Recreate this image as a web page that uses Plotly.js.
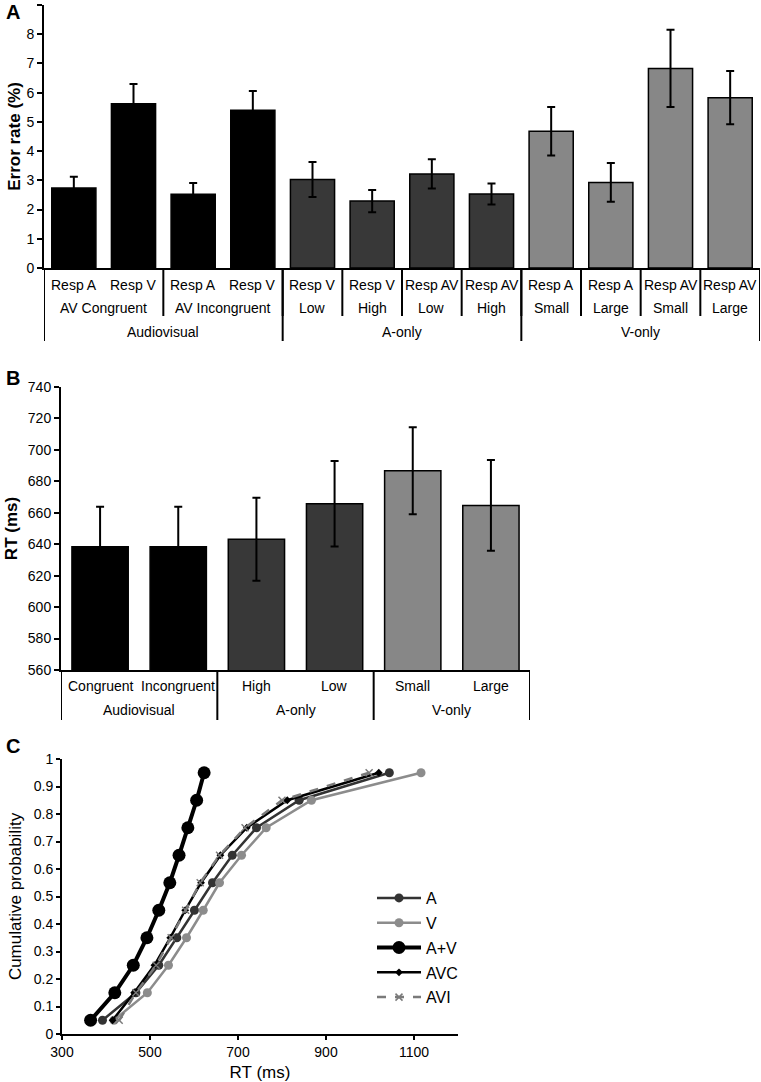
<!DOCTYPE html>
<html>
<head>
<meta charset="utf-8">
<script src="https://cdn.plot.ly/plotly-3.0.1.min.js"></script>
<style>html,body{margin:0;padding:0;background:#fff;}#chart{width:761px;height:1082px;}</style>
</head>
<body>
<div id="chart"></div>
<script>
// ---------- Panel A data: error rate (%) ----------
const errCats  = ['Resp A','Resp V','Resp A','Resp V','Resp V','Resp V','Resp AV','Resp AV','Resp A','Resp A','Resp AV','Resp AV'];
const errSub   = ['AV Congruent','AV Congruent','AV Incongruent','AV Incongruent','Low','High','Low','High','Small','Large','Small','Large'];
const errGroup = ['Audiovisual','Audiovisual','Audiovisual','Audiovisual','A-only','A-only','A-only','A-only','V-only','V-only','V-only','V-only'];
const errRate  = [2.74, 5.62, 2.52, 5.40, 3.03, 2.29, 3.22, 2.53, 4.68, 2.93, 6.83, 5.83];
const errSE    = [0.38, 0.68, 0.39, 0.66, 0.60, 0.38, 0.50, 0.36, 0.83, 0.66, 1.32, 0.91];

// ---------- Panel B data: RT (ms) ----------
const rtCats  = ['Congruent','Incongruent','High','Low','Small','Large'];
const rtGroup = ['Audiovisual','Audiovisual','A-only','A-only','V-only','V-only'];
const rtMean  = [638.4, 638.4, 643.1, 665.7, 686.7, 664.7];
const rtSE    = [25.4, 25.4, 26.4, 27.2, 27.7, 28.8];

// ---------- Panel C data: cumulative RT distributions ----------
const cumProb = [0.05, 0.15, 0.25, 0.35, 0.45, 0.55, 0.65, 0.75, 0.85, 0.95];
const rtA   = [392, 468, 520, 561, 601, 642, 687, 742, 839, 1044];
const rtV   = [418, 494, 542, 583, 621, 658, 708, 764, 867, 1116];
const rtAV  = [365, 420, 462, 493, 520, 545, 566, 586, 606, 623];
const rtAVC = [415, 464, 510, 546, 580, 616, 660, 720, 812, 1020];
const rtAVI = [430, 468, 514, 548, 581, 614, 658, 716, 800, 998];

// ---------- styling helpers ----------
const W = 761, H = 1082;
const FONT = 'Liberation Sans, Arial, sans-serif';
const px = x => x / W;
const py = y => 1 - y / H;
const groupColor = {'Audiovisual':'#000000','A-only':'#383838','V-only':'#878787'};

function spans(labels){
  const out = [];
  labels.forEach((l,i)=>{
    const last = out[out.length-1];
    if(last && last.label===l){ last.end = i; } else { out.push({label:l,start:i,end:i}); }
  });
  return out;
}

const annotations = [];
const shapes = [];
function addLabel(xref, x, y, text, size, bold){
  annotations.push({xref:xref, yref:'paper', x:x, y:py(y), text: bold?'<b>'+text+'</b>':text,
    showarrow:false, xanchor:'center', yanchor:'middle', font:{family:FONT,size:size,color:'#000'}});
}
function addSep(xref, x, y0, y1){
  shapes.push({type:'line', xref:xref, yref:'paper', x0:x, x1:x, y0:py(y0), y1:py(y1),
    line:{color:'#000', width:2}});
}

// Panel A category labels
errCats.forEach((c,i)=> addLabel('x', i, 285, c, 14));
spans(errSub).forEach(s=>{ addLabel('x', (s.start+s.end)/2, 308, s.label, 14); });
spans(errGroup).forEach(s=>{ addLabel('x', (s.start+s.end)/2, 332, s.label, 14); });
spans(errSub).forEach(s=>{ addSep('x', s.start-0.5, 268, 316); });
spans(errGroup).forEach(s=>{ addSep('x', s.start-0.5, 268, 341); });
addSep('x', errCats.length-0.5, 268, 341);

// Panel B category labels
rtCats.forEach((c,i)=> addLabel('x2', i, 686, c, 14));
spans(rtGroup).forEach(s=>{ addLabel('x2', (s.start+s.end)/2, 710, s.label, 14); addSep('x2', s.start-0.5, 670, 720); });
addSep('x2', rtCats.length-0.5, 670, 720);

// Panel letters
annotations.push({xref:'paper',yref:'paper',x:px(4),y:py(12),text:'<b>A</b>',showarrow:false,xanchor:'left',yanchor:'middle',font:{family:FONT,size:20,color:'#000'}});
annotations.push({xref:'paper',yref:'paper',x:px(4),y:py(378),text:'<b>B</b>',showarrow:false,xanchor:'left',yanchor:'middle',font:{family:FONT,size:20,color:'#000'}});
annotations.push({xref:'paper',yref:'paper',x:px(4),y:py(746),text:'<b>C</b>',showarrow:false,xanchor:'left',yanchor:'middle',font:{family:FONT,size:20,color:'#000'}});

const errBars = {type:'data', array:null, color:'#000', thickness:2, width:4, visible:true};

const traces = [
  {type:'bar', x:errCats.map((c,i)=>i), y:errRate, xaxis:'x', yaxis:'y', width:0.74,
   marker:{color:errGroup.map(g=>groupColor[g]), line:{color:'#000',width:1.5}},
   error_y:Object.assign({}, errBars, {array:errSE}), showlegend:false, hoverinfo:'skip'},
  {type:'bar', x:rtCats.map((c,i)=>i), y:rtMean, xaxis:'x2', yaxis:'y2', width:0.72,
   marker:{color:rtGroup.map(g=>groupColor[g]), line:{color:'#000',width:1.5}},
   error_y:Object.assign({}, errBars, {array:rtSE}), showlegend:false, hoverinfo:'skip'},
  {type:'scatter', mode:'lines+markers', name:'A', x:rtA, y:cumProb, xaxis:'x3', yaxis:'y3', legendgroup:'a',
   line:{color:'#333333', width:2.5}, marker:{symbol:'circle', size:9, color:'#333333'}},
  {type:'scatter', mode:'lines+markers', name:'V', x:rtV, y:cumProb, xaxis:'x3', yaxis:'y3', legendgroup:'v',
   line:{color:'#8c8c8c', width:2.5}, marker:{symbol:'circle', size:9, color:'#8c8c8c'}},
  {type:'scatter', mode:'lines+markers', name:'A+V', x:rtAV, y:cumProb, xaxis:'x3', yaxis:'y3', legendgroup:'av',
   line:{color:'#000000', width:4}, marker:{symbol:'circle', size:13, color:'#000000'}},
  {type:'scatter', mode:'lines+markers', name:'AVC', x:rtAVC, y:cumProb, xaxis:'x3', yaxis:'y3', legendgroup:'avc',
   line:{color:'#000000', width:2.5}, marker:{symbol:'diamond', size:6, color:'#000000'}},
  {type:'scatter', mode:'lines+markers', name:'AVI', x:rtAVI, y:cumProb, xaxis:'x3', yaxis:'y3', legendgroup:'avi',
   line:{color:'#7a7a7a', width:2.5, dash:'dash'}, marker:{symbol:'x-thin', size:7, color:'#7a7a7a', line:{color:'#7a7a7a', width:1.5}}}
];

const axBase = {showgrid:false, zeroline:false, showline:true, linecolor:'#000', linewidth:2,
  tickfont:{family:FONT, size:14, color:'#000'}, fixedrange:true};

const layout = {
  width:W, height:H, margin:{l:0,r:0,t:0,b:0}, paper_bgcolor:'#fff', plot_bgcolor:'rgba(0,0,0,0)',
  font:{family:FONT, color:'#000'}, bargap:0,
  xaxis: Object.assign({}, axBase, {domain:[px(44), px(760)], range:[-0.5, 11.5], showticklabels:false, ticks:'', anchor:'y'}),
  yaxis: Object.assign({}, axBase, {domain:[py(268), py(5)], range:[0, 9], dtick:1, ticks:'outside', ticklen:5, tickwidth:2, tickcolor:'#000', anchor:'x',
    title:{text:'<b>Error rate (%)</b>', font:{family:FONT, size:17, color:'#000'}, standoff:1}}),
  xaxis2: Object.assign({}, axBase, {domain:[px(61), px(530)], range:[-0.5, 5.5], showticklabels:false, ticks:'', anchor:'y2'}),
  yaxis2: Object.assign({}, axBase, {domain:[py(670), py(387)], range:[560, 740], dtick:20, ticks:'outside', ticklen:5, tickwidth:2, tickcolor:'#000', anchor:'x2',
    title:{text:'<b>RT (ms)</b>', font:{family:FONT, size:17, color:'#000'}, standoff:6}}),
  xaxis3: Object.assign({}, axBase, {domain:[px(62), px(458)], range:[300, 1200], tick0:300, dtick:200, ticks:'outside', ticklen:4, tickwidth:2, tickcolor:'#000', anchor:'y3',
    title:{text:'RT (ms)', font:{family:FONT, size:17, color:'#000'}, standoff:8}}),
  yaxis3: Object.assign({}, axBase, {domain:[py(1034), py(759)], range:[0, 1], dtick:0.1, ticks:'outside', ticklen:4, tickwidth:2, tickcolor:'#000', anchor:'x3',
    title:{text:'Cumulative probability', font:{family:FONT, size:17, color:'#000'}, standoff:8}}),
  showlegend:true,
  legend:{x:px(372), xanchor:'left', y:py(881), yanchor:'top', traceorder:'grouped', tracegroupgap:1,
    font:{family:FONT, size:16, color:'#000'}, bgcolor:'rgba(0,0,0,0)', itemwidth:44},
  annotations:annotations,
  shapes:shapes
};

Plotly.newPlot('chart', traces, layout, {staticPlot:true, displayModeBar:false});
</script>
</body>
</html>
